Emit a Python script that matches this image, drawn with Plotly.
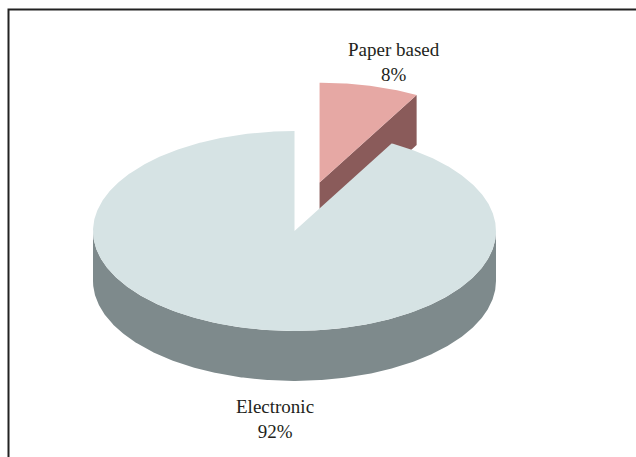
import numpy as np
import plotly.graph_objects as go

# ---- data ----
categories = ["Paper based", "Electronic"]
values = [8, 92]
pulls = [0.5, 0.0]

# ---- style ----
top_colors = {"Paper based": "#e6a8a4", "Electronic": "#d6e3e4"}
side_colors = {"Paper based": "#8a5b5a", "Electronic": "#7e8a8c"}
TILT = 0.496      # vertical squash of the ellipse
DEPTH = 0.248     # thickness of the pie
START = 90.0      # start angle (deg), slices go clockwise
S = 201.5         # px per data unit
CX_PX, CY_PX = 294.5, 231.0
W, H = 636, 457
FONT = "Liberation Serif"

fig = go.Figure()

def pt(t_deg, off, dz=0.0):
    t = np.radians(t_deg)
    return off[0] + np.cos(t), off[1] + TILT * np.sin(t) - dz

def arc(t1, t2, off, dz=0.0, n=None):
    if n is None:
        n = max(4, int(abs(t2 - t1) * 2))
    ts = np.linspace(t1, t2, n)
    x, y = pt(ts, off, dz)
    return list(x), list(y)

def poly(xs, ys, color):
    fig.add_trace(go.Scatter(x=xs, y=ys, fill="toself", fillcolor=color,
                             mode="lines", line=dict(width=0, color=color),
                             hoverinfo="skip", showlegend=False))

total = float(sum(values))
slices = []
cum = 0.0
for cat, v, p in zip(categories, values, pulls):
    a1 = START - cum / total * 360.0
    cum += v
    a2 = START - cum / total * 360.0
    mid = np.radians((a1 + a2) / 2)
    off = (p * np.cos(mid), p * TILT * np.sin(mid))
    slices.append(dict(cat=cat, a1=a1, a2=a2, off=off, mid=mid, v=v))

# back-to-front order
order = sorted(slices, key=lambda s: -np.sin(s["mid"]))
for s in order:
    a1, a2, off, cat = s["a1"], s["a2"], s["off"], s["cat"]
    side = side_colors[cat]
    # outer wall (front facing part: angles in [-180,0] + 360k)
    lo, hi = min(a1, a2), max(a1, a2)
    for k in range(-2, 3):
        f0, f1 = -180 + 360 * k, 0 + 360 * k
        i0, i1 = max(lo, f0), min(hi, f1)
        if i1 > i0:
            xt, yt = arc(i0, i1, off)
            xb, yb = arc(i1, i0, off, DEPTH)
            poly(xt + xb + [xt[0]], yt + yb + [yt[0]], side)
    # radial cut faces
    for ang, nrm in ((a1, a1 + 90), (a2, a2 - 90)):
        if np.sin(np.radians(nrm)) < -1e-9:
            rx, ry = pt(ang, off)
            rbx, rby = pt(ang, off, DEPTH)
            xs = [off[0], rx, rbx, off[0], off[0]]
            ys = [off[1], ry, rby, off[1] - DEPTH, off[1]]
            poly(xs, ys, side)
    # top face
    xt, yt = arc(a1, a2, off)
    poly([off[0]] + xt + [off[0]], [off[1]] + yt + [off[1]], top_colors[cat])

# labels
label_pos = {"Paper based": (0.494, 0.839), "Electronic": (-0.097, -0.933)}
for cat, v in zip(categories, values):
    lx, ly = label_pos[cat]
    fig.add_annotation(x=lx, y=ly, text=f"{cat}<br>{v/total*100:.0f}%",
                       showarrow=False, xanchor="center", yanchor="middle",
                       font=dict(family=FONT, size=19, color="#231f20"))

# frame
fig.add_shape(type="rect", xref="paper", yref="paper",
              x0=8.5 / W, x1=1.05, y0=-0.05, y1=1 - 9.5 / H,
              line=dict(color="#222222", width=2), fillcolor="rgba(0,0,0,0)")

fig.update_layout(
    width=W, height=H, margin=dict(l=0, r=0, t=0, b=0),
    paper_bgcolor="white", plot_bgcolor="white",
    xaxis=dict(range=[-CX_PX / S, (W - CX_PX) / S], visible=False, fixedrange=True),
    yaxis=dict(range=[(CY_PX - H) / S, CY_PX / S], visible=False, fixedrange=True),
    showlegend=False,
)
fig.write_html("out.html")
